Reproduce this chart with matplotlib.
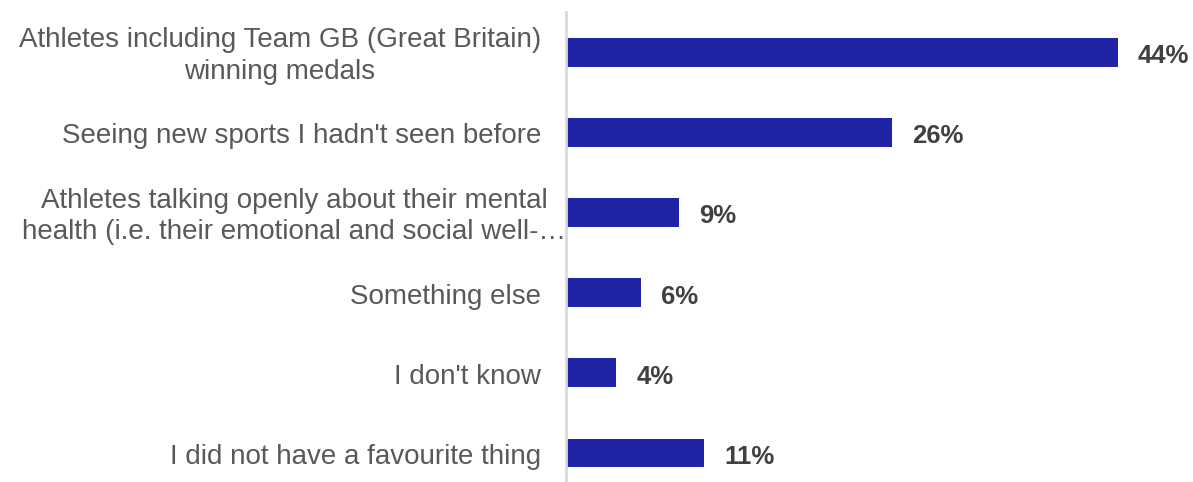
import matplotlib.pyplot as plt
from matplotlib.transforms import blended_transform_factory

plt.rcParams['font.family'] = ['Liberation Sans', 'DejaVu Sans']

# Favourite thing about the Games (% of respondents)
categories = [
    "Athletes including Team GB (Great Britain)\nwinning medals",
    "Seeing new sports I hadn't seen before",
    "Athletes talking openly about their mental\nhealth (i.e. their emotional and social well-\u2026",
    "Something else",
    "I don't know",
    "I did not have a favourite thing",
]
values = [44, 26, 9, 6, 4, 11]
value_labels = ["44%", "26%", "9%", "6%", "4%", "11%"]

bar_color = '#2023A6'
label_color = '#595959'
value_color = '#404040'

fig = plt.figure(figsize=(11.93, 4.82), dpi=100)
ax = fig.add_axes([566 / 1193, 0, 1 - 566 / 1193, 1 - 12 / 482])

pos = list(range(len(categories)))
ax.barh(pos, values, height=0.36, color=bar_color)
ax.set_xlim(0, 50)
ax.set_ylim(5.3625, -0.5)

for spine in ['top', 'right', 'bottom']:
    ax.spines[spine].set_visible(False)
ax.spines['left'].set_color('#d9d9d9')
ax.spines['left'].set_linewidth(2)
ax.set_xticks([])
ax.set_yticks([])

# category labels, placed left of the axis line (nudged down a little)
trans = blended_transform_factory(fig.transFigure, ax.transData)
dy = 0.05
for i, cat in enumerate(categories):
    if i == 2:
        # long label is centred and runs past the axis line
        ax.text(294 / 1193, i + dy, cat, transform=trans, ha='center', va='center',
                multialignment='center', fontsize=20, color=label_color,
                linespacing=1.28)
    else:
        ax.text(541 / 1193, i + dy, cat, transform=trans, ha='right', va='center',
                multialignment='center', fontsize=20, color=label_color,
                linespacing=1.28)

# value labels at the end of each bar
for i, (v, lab) in enumerate(zip(values, value_labels)):
    ax.annotate(lab, (v, i), xytext=(20, -4), textcoords='offset pixels',
                ha='left', va='center', fontsize=18.5, fontweight='bold',
                color=value_color)

fig.savefig('out.png', dpi=100)
